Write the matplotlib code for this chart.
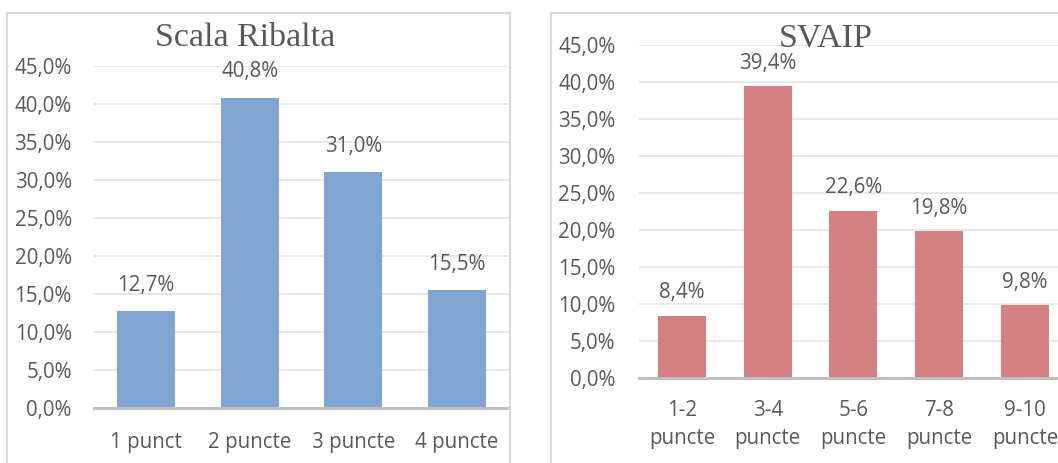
import matplotlib
matplotlib.use("Agg")
import matplotlib.pyplot as plt
from matplotlib.patches import Rectangle

W, H = 1058, 463
DPI = 100

left_title = "Scala Ribalta"
left_categories = ["1 punct", "2 puncte", "3 puncte", "4 puncte"]
left_values = [12.7, 40.8, 31.0, 15.5]

right_title = "SVAIP"
right_categories = ["1-2\npuncte", "3-4\npuncte", "5-6\npuncte", "7-8\npuncte", "9-10\npuncte"]
right_values = [8.4, 39.4, 22.6, 19.8, 9.8]

y_ticks = [0, 5, 10, 15, 20, 25, 30, 35, 40, 45]

TEXT = "#595959"
GRID = "#e3e3e3"
AXIS = "#bfbfbf"
BLUE = "#7fa6d2"
RED = "#d47f80"
FONT = ["Open Sans", "DejaVu Sans"]
SERIF = ["Liberation Serif", "DejaVu Serif"]
FS = 14.8

fig = plt.figure(figsize=(W / DPI, H / DPI), dpi=DPI)
fig.patch.set_facecolor("white")


def px_axes(x0, x1, y_top, y_bottom):
    return fig.add_axes([x0 / W, (H - y_bottom) / H, (x1 - x0) / W, (y_bottom - y_top) / H])


def fmt(v):
    return f"{v:.1f}".replace(".", ",") + "%"


def draw(ax, cats, vals, color, title, title_xy, xlim, label_off, tfs, xpad, ypad):
    x = list(range(len(cats)))
    ax.bar(x, vals, width=0.56, color=color, zorder=3)
    ax.set_xlim(*xlim)
    ax.set_ylim(0, 45)
    ax.set_yticks(y_ticks)
    ax.set_yticklabels([fmt(t) for t in y_ticks], fontsize=FS, color=TEXT, family=FONT)
    ax.set_xticks(x)
    ax.set_xticklabels(cats, fontsize=FS, color=TEXT, family=FONT, linespacing=1.45)
    ax.tick_params(axis="both", length=0)
    ax.tick_params(axis="y", pad=ypad)
    ax.tick_params(axis="x", pad=xpad)
    ax.grid(axis="y", color=GRID, linewidth=1.2, zorder=0)
    ax.set_axisbelow(True)
    for s in ["top", "right", "left"]:
        ax.spines[s].set_visible(False)
    ax.spines["bottom"].set_color(AXIS)
    ax.spines["bottom"].set_linewidth(2.2)
    ax.spines["bottom"].set_zorder(4)
    ax.set_facecolor("none")
    for xi, v in zip(x, vals):
        ax.annotate(fmt(v), (xi, v), xytext=(0, label_off), textcoords="offset pixels",
                    ha="center", va="center", fontsize=FS, color=TEXT, family=FONT)
    fig.text(title_xy[0] / W, 1 - title_xy[1] / H, title, ha="center", va="center",
             fontsize=tfs, color=TEXT, family=SERIF)


# panel borders
fig.add_artist(Rectangle((7 / W, -0.05), (510 - 7) / W, 1.05 - 13 / H, transform=fig.transFigure,
                         fill=False, edgecolor="#d9d9d9", linewidth=1.5))
fig.add_artist(Rectangle((551 / W, -0.05), 0.6, 1.05 - 13 / H, transform=fig.transFigure,
                         fill=False, edgecolor="#d9d9d9", linewidth=1.5))

axL = px_axes(94, 509, 66, 408)
draw(axL, left_categories, left_values, BLUE, left_title, (245, 38), (-0.5, 3.5), 26, 24.5, 17, 16)

axR = px_axes(639, 1058, 45, 378)
draw(axR, right_categories, right_values, RED, right_title, (826, 38), (-0.5, 4.386), 23, 24.5, 16, 17)

fig.savefig("out.png", dpi=DPI, facecolor="white")
